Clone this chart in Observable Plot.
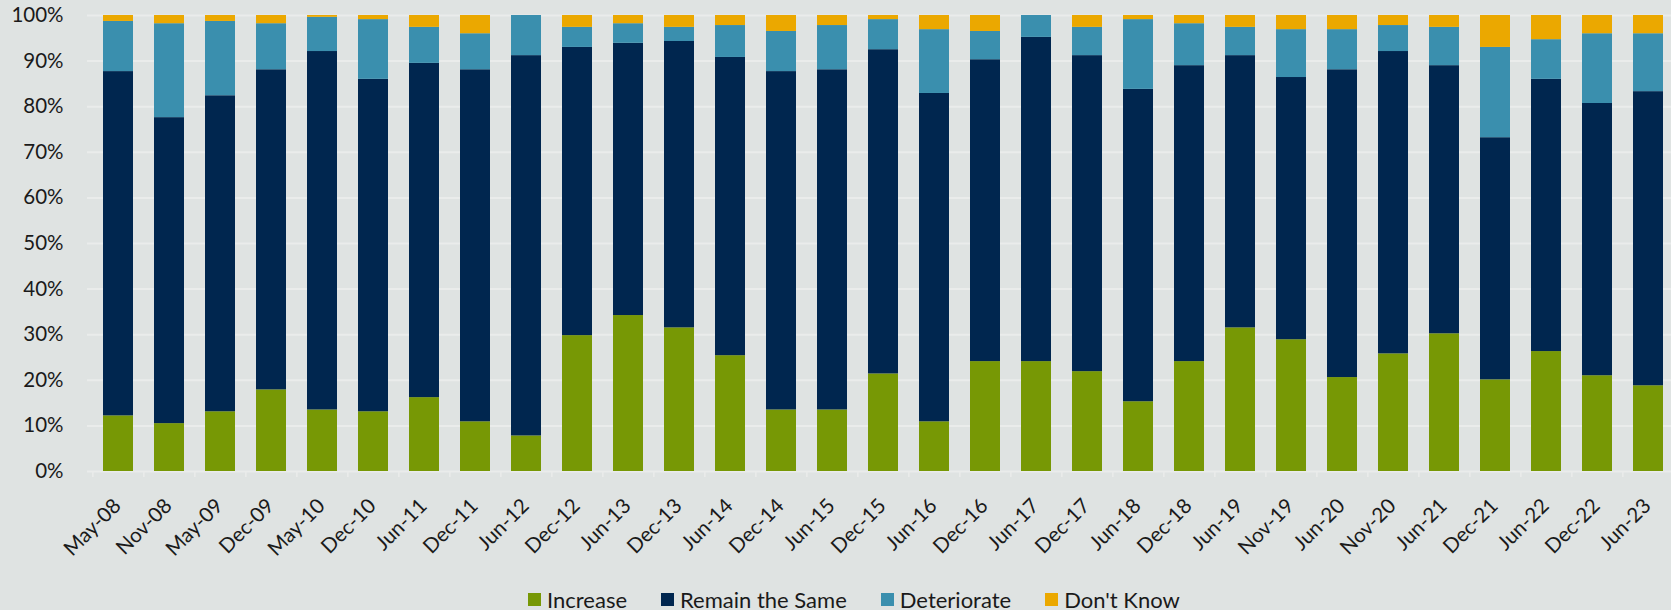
<!DOCTYPE html>
<html>
<head>
<meta charset="utf-8">
<script src="https://cdn.jsdelivr.net/npm/d3@7"></script>
<script src="https://cdn.jsdelivr.net/npm/@observablehq/plot@0.6"></script>
<style>
  html, body { margin: 0; padding: 0; background: #dfe3e2; overflow: hidden; }
  body { font-family: Lato, "Open Sans", sans-serif; color: #1a1a1a; }
  #legend { display: flex; align-items: center; height: 24px; margin-top: 2.5px; padding-left: 528px; font-size: 22px; }
  .item { display: flex; align-items: center; margin-right: 34px; }
  .sw { width: 13px; height: 12.5px; margin-right: 6px; display: inline-block; }
</style>
</head>
<body>
<div id="chart"></div>
<div id="legend"></div>
<script>
const dates = ["May-08","Nov-08","May-09","Dec-09","May-10","Dec-10","Jun-11","Dec-11","Jun-12","Dec-12","Jun-13","Dec-13","Jun-14","Dec-14","Jun-15","Dec-15","Jun-16","Dec-16","Jun-17","Dec-17","Jun-18","Dec-18","Jun-19","Nov-19","Jun-20","Nov-20","Jun-21","Dec-21","Jun-22","Dec-22","Jun-23"];
const increase    = [12.2,10.5,13.1,17.9,13.5,13.1,16.2,10.9, 7.8,29.8,34.2,31.5,25.4,13.5,13.5,21.4,10.9,24.1,24.1,21.9,15.3,24.1,31.5,28.9,20.6,25.8,30.2,20.1,26.3,21.0,18.8];
const remain      = [75.5,67.1,69.3,70.2,78.6,72.9,73.3,77.2,83.4,63.2,59.7,62.8,65.4,74.2,74.6,71.1,72.0,66.2,71.1,69.3,68.5,64.9,59.7,57.5,67.5,66.3,58.8,53.1,59.7,59.7,64.5];
const deteriorate = [11.0,20.6,16.3,10.1, 7.5,13.1, 7.9, 7.9, 8.8, 4.4, 4.3, 3.1, 7.0, 8.8, 9.7, 6.6,14.0, 6.2, 4.8, 6.2,15.3, 9.2, 6.2,10.5, 8.8, 5.7, 8.4,19.8, 8.7,15.3,12.7];
const dontKnow    = [ 1.3, 1.8, 1.3, 1.8, 0.4, 0.9, 2.6, 4.0, 0.0, 2.6, 1.8, 2.6, 2.2, 3.5, 2.2, 0.9, 3.1, 3.5, 0.0, 2.6, 0.9, 1.8, 2.6, 3.1, 3.1, 2.2, 2.6, 7.0, 5.3, 4.0, 4.0];
const seriesNames = ["Increase", "Remain the Same", "Deteriorate", "Don't Know"];
const seriesColors = ["#779805", "#00264f", "#3a8fae", "#eba800"];
const yTicks = [0, 0.1, 0.2, 0.3, 0.4, 0.5, 0.6, 0.7, 0.8, 0.9, 1];

const seriesValues = [increase, remain, deteriorate, dontKnow];
const rows = dates.flatMap((d, i) => seriesNames.map((s, k) => ({date: d, series: s, value: seriesValues[k][i]})));

// layout: the band range runs slightly past the right edge, as in the original (last bar touches the edge)
const W = 1671, H = 585, mL = 87, mR = 0, mT = 15, mB = 114;
const xRange = [mL, W + 8];
const pInner = 0.416, pOuter = 0.2145;
const step = (xRange[1] - xRange[0]) / (dates.length - pInner + 2 * pOuter);

const chart = Plot.plot({
  width: W,
  height: H,
  marginLeft: mL,
  marginRight: mR,
  marginTop: mT,
  marginBottom: mB,
  style: { background: "transparent", fontFamily: "Lato, 'Open Sans', sans-serif", fontSize: "20px", color: "#1a1a1a", overflow: "hidden" },
  x: { domain: dates, range: xRange, paddingInner: pInner, paddingOuter: pOuter, label: null },
  y: { domain: [0, 1], label: null },
  color: { domain: seriesNames, range: seriesColors },
  marks: [
    Plot.ruleY(yTicks, { stroke: "#eaeceb", strokeWidth: 2 }),
    Plot.ruleX(dates, { x: d => d, y1: 0, y2: -0.013, dx: -step / 2, stroke: "#eaeceb", strokeWidth: 1.5 }),
    Plot.barY(rows, Plot.stackY({ x: "date", y: "value", fill: "series", order: seriesNames, offset: "normalize" })),
    Plot.axisY({ ticks: yTicks, tickFormat: d3.format(".0%"), tickSize: 0, tickPadding: 24, fontSize: 20.5 }),
    Plot.axisX({ tickRotate: -45, tickSize: 0, tickPadding: 31, dx: -1, textAnchor: "end", lineAnchor: "middle", fontSize: 20.5 })
  ]
});
document.getElementById("chart").appendChild(chart);

const legend = document.getElementById("legend");
seriesNames.forEach((s, k) => {
  const item = document.createElement("span");
  item.className = "item";
  const sw = document.createElement("span");
  sw.className = "sw";
  sw.style.background = seriesColors[k];
  item.appendChild(sw);
  item.appendChild(document.createTextNode(s));
  legend.appendChild(item);
});
</script>
</body>
</html>
